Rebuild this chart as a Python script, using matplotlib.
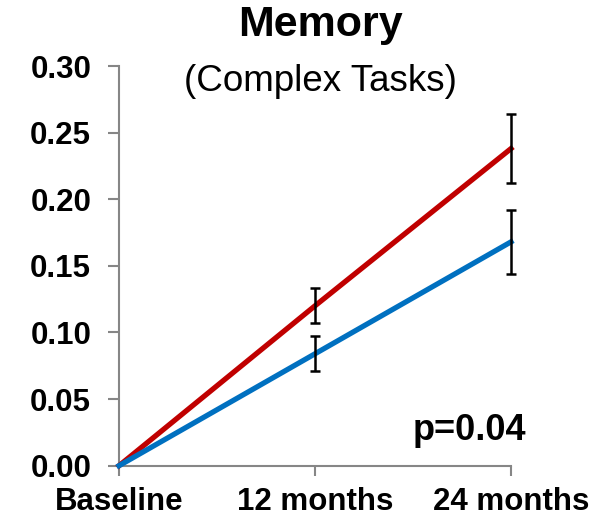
import matplotlib
matplotlib.use("Agg")
import matplotlib.pyplot as plt

plt.rcParams['font.family'] = ['Liberation Sans', 'DejaVu Sans']

# data
timepoints = ["Baseline", "12 months", "24 months"]
red_vals = [0.0, 0.120, 0.238]
red_err = [None, 0.013, 0.026]
blue_vals = [0.0, 0.084, 0.168]
blue_err = [None, 0.013, 0.024]
yticks = [0.00, 0.05, 0.10, 0.15, 0.20, 0.25, 0.30]

RED = "#C00000"
BLUE = "#0070C0"
AXIS = "#868686"

fig = plt.figure(figsize=(5.99, 5.17), dpi=100)
ax = fig.add_axes([119 / 599, 1 - 465.7 / 517, (511 - 119) / 599, (465.7 - 66) / 517])

x = list(range(len(timepoints)))
ax.plot(x, red_vals, color=RED, lw=3.8, clip_on=False, zorder=3)
ax.plot(x, blue_vals, color=BLUE, lw=3.8, clip_on=False, zorder=3)

# error bars only where there is an error value
for vals, errs in [(red_vals, red_err), (blue_vals, blue_err)]:
    xs = [i for i, e in enumerate(errs) if e is not None]
    ax.errorbar(xs, [vals[i] for i in xs], yerr=[errs[i] for i in xs],
                fmt="none", ecolor="black", elinewidth=1.8, capsize=3.5,
                capthick=1.8, zorder=4, clip_on=False)

ax.set_xlim(0, 2)
ax.set_ylim(0, 0.30)
ax.set_xticks(x)
ax.set_xticklabels(timepoints, fontsize=22.5, fontweight="bold")
ax.set_yticks(yticks)
ax.set_yticklabels([f"{v:.2f}" for v in yticks], fontsize=22.5, fontweight="bold")

for side in ["top", "right"]:
    ax.spines[side].set_visible(False)
for side in ["left", "bottom"]:
    ax.spines[side].set_color(AXIS)
    ax.spines[side].set_linewidth(1.5)
ax.tick_params(axis="y", direction="out", length=8, width=1.5, color=AXIS, pad=12)
ax.tick_params(axis="x", direction="out", length=7.5, width=1.5, color=AXIS, pad=8)

fig.text(320 / 599, 1 - 36 / 517, "Memory", ha="center", va="baseline",
         fontsize=31, fontweight="bold")
fig.text(320 / 599, 1 - 91 / 517, "(Complex Tasks)", ha="center", va="baseline",
         fontsize=26.5)
fig.text(413 / 599, 1 - 440 / 517, "p=0.04", ha="left", va="baseline",
         fontsize=26, fontweight="bold")

fig.savefig("out.png", dpi=100)
